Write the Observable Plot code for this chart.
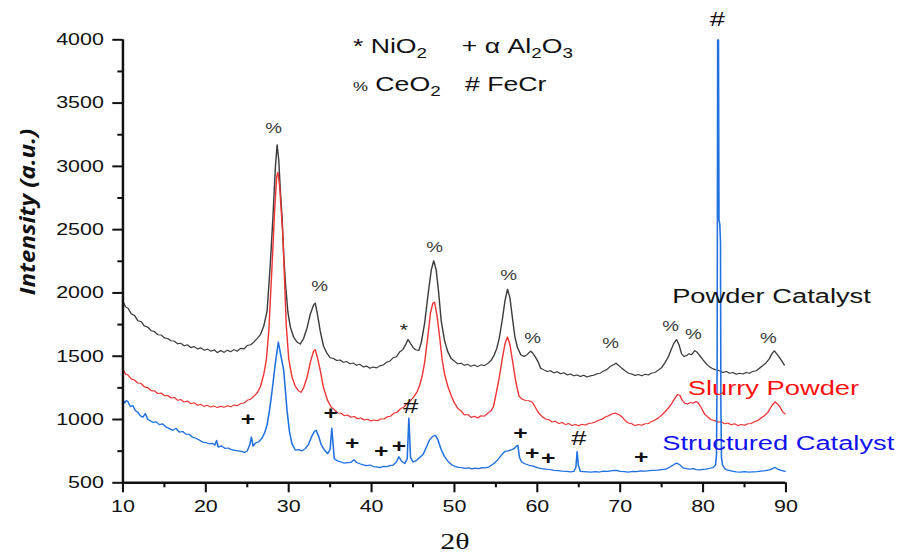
<!DOCTYPE html>
<html><head><meta charset="utf-8">
<script src="https://cdn.jsdelivr.net/npm/d3@7"></script>
<script src="https://cdn.jsdelivr.net/npm/@observablehq/plot@0.6"></script>
<style>body{margin:0;background:#fff;} #chart svg{display:block}</style>
</head><body><div id="chart"></div>
<script>
// ---- data (2θ in degrees, intensity in a.u.) ----
const powderCatalyst = [[10,1935],[10.3,1890],[10.6,1880],[11,1835],[11.4,1822],[11.8,1780],[12.2,1772],[12.6,1738],[13,1730],[13.4,1702],[13.8,1695],[14.2,1670],[14.6,1668],[15,1645],[15.4,1640],[15.8,1622],[16.2,1620],[16.6,1598],[17,1602],[17.4,1582],[17.8,1590],[18.2,1568],[18.6,1576],[19,1558],[19.4,1566],[19.8,1548],[20.2,1556],[20.6,1540],[21,1550],[21.4,1528],[21.8,1545],[22.2,1530],[22.6,1548],[23,1536],[23.4,1552],[23.8,1540],[24.2,1562],[24.6,1558],[25,1585],[25.4,1590],[25.8,1612],[26.2,1640],[26.6,1672],[27,1740],[27.4,1860],[27.8,2250],[28.1,2600],[28.4,3000],[28.6,3170],[28.8,3050],[29,2800],[29.2,2600],[29.4,2300],[29.6,2080],[29.9,1850],[30.2,1730],[30.6,1650],[31,1612],[31.4,1596],[31.8,1640],[32.2,1720],[32.6,1830],[33,1905],[33.2,1920],[33.5,1820],[33.8,1700],[34.2,1580],[34.6,1525],[35,1488],[35.4,1482],[35.8,1466],[36.2,1470],[36.6,1452],[37,1458],[37.4,1440],[37.8,1446],[38.2,1428],[38.6,1436],[39,1416],[39.4,1422],[39.8,1405],[40.2,1415],[40.6,1408],[41,1424],[41.4,1430],[41.8,1452],[42.2,1460],[42.6,1488],[43,1496],[43.4,1535],[43.8,1555],[44.1,1590],[44.4,1632],[44.7,1600],[45,1570],[45.3,1552],[45.7,1545],[46,1610],[46.4,1760],[46.8,1980],[47.2,2180],[47.5,2255],[47.8,2180],[48.1,2000],[48.4,1780],[48.8,1625],[49.2,1535],[49.6,1482],[50,1462],[50.4,1440],[50.8,1445],[51.2,1428],[51.6,1436],[52,1420],[52.4,1430],[52.8,1418],[53.2,1432],[53.6,1426],[54,1442],[54.4,1465],[54.8,1510],[55.1,1560],[55.4,1640],[55.8,1800],[56.1,1940],[56.4,2030],[56.7,1960],[57,1800],[57.3,1650],[57.6,1570],[58,1512],[58.4,1498],[58.8,1515],[59.2,1540],[59.5,1520],[59.8,1490],[60.1,1455],[60.4,1405],[60.8,1392],[61.2,1380],[61.6,1385],[62,1368],[62.4,1378],[62.8,1362],[63.2,1370],[63.6,1352],[64,1360],[64.4,1345],[64.8,1352],[65.2,1340],[65.6,1350],[66,1336],[66.4,1345],[66.8,1350],[67.2,1362],[67.6,1366],[68,1384],[68.4,1395],[68.8,1420],[69.2,1432],[69.5,1445],[69.8,1428],[70.2,1405],[70.6,1385],[71,1366],[71.4,1360],[71.8,1348],[72.2,1356],[72.6,1345],[73,1358],[73.4,1352],[73.8,1368],[74.2,1372],[74.6,1390],[75,1410],[75.4,1448],[75.8,1495],[76.2,1560],[76.5,1605],[76.8,1632],[77.1,1590],[77.4,1520],[77.7,1498],[78,1505],[78.3,1520],[78.6,1512],[79,1545],[79.3,1530],[79.6,1505],[80,1470],[80.4,1440],[80.8,1415],[81.2,1400],[81.6,1392],[82,1385],[82.4,1372],[82.8,1380],[83.2,1366],[83.6,1372],[84,1358],[84.4,1366],[84.8,1360],[85.2,1372],[85.6,1366],[86,1380],[86.4,1385],[86.8,1405],[87.2,1425],[87.6,1448],[88,1480],[88.3,1520],[88.6,1542],[88.9,1518],[89.2,1492],[89.5,1462],[89.8,1430]];

const slurryPowder = [[10,1395],[10.3,1360],[10.6,1352],[11,1320],[11.4,1312],[11.8,1288],[12.2,1284],[12.6,1258],[13,1252],[13.4,1228],[13.8,1226],[14.2,1205],[14.6,1210],[15,1188],[15.4,1190],[15.8,1170],[16.2,1174],[16.6,1152],[17,1158],[17.4,1138],[17.8,1146],[18.2,1125],[18.6,1132],[19,1112],[19.4,1120],[19.8,1104],[20.2,1112],[20.6,1098],[21,1106],[21.4,1094],[21.8,1104],[22.2,1096],[22.6,1108],[23,1100],[23.4,1114],[23.8,1110],[24.2,1126],[24.6,1130],[25,1152],[25.4,1160],[25.8,1185],[26.2,1210],[26.6,1262],[27,1360],[27.3,1470],[27.6,1700],[28,2230],[28.3,2650],[28.55,2920],[28.7,2954],[28.9,2850],[29.1,2650],[29.3,2450],[29.5,2100],[29.7,1750],[30,1480],[30.4,1335],[30.8,1262],[31.2,1226],[31.5,1215],[31.8,1250],[32.2,1330],[32.6,1450],[33,1540],[33.2,1552],[33.5,1480],[33.8,1390],[34.2,1252],[34.7,1150],[35.1,1100],[35.5,1078],[35.9,1052],[36.3,1050],[36.7,1030],[37.1,1036],[37.5,1018],[37.9,1024],[38.3,1006],[38.7,1012],[39.1,996],[39.5,1002],[39.9,988],[40.3,996],[40.7,990],[41.1,1004],[41.5,1004],[41.9,1022],[42.3,1026],[42.7,1050],[43.1,1058],[43.5,1086],[43.9,1098],[44.3,1128],[44.7,1148],[45.1,1180],[45.5,1220],[45.8,1270],[46.1,1340],[46.4,1450],[46.8,1660],[47.1,1840],[47.4,1920],[47.6,1928],[47.9,1820],[48.2,1660],[48.5,1480],[48.8,1360],[49.2,1262],[49.6,1190],[50,1130],[50.4,1088],[50.8,1068],[51.2,1036],[51.6,1040],[52,1016],[52.4,1026],[52.8,1012],[53.2,1030],[53.6,1026],[54,1048],[54.4,1068],[54.7,1100],[55,1195],[55.4,1330],[55.8,1490],[56.1,1600],[56.4,1652],[56.7,1590],[57,1466],[57.4,1300],[57.8,1182],[58.2,1160],[58.6,1150],[59,1148],[59.4,1136],[59.8,1092],[60.2,1048],[60.6,1022],[61,1004],[61.4,998],[61.8,980],[62.2,986],[62.6,968],[63,976],[63.4,960],[63.8,968],[64.2,952],[64.6,960],[65,950],[65.4,962],[65.8,956],[66.2,968],[66.6,972],[67,980],[67.4,994],[67.8,1002],[68.2,1020],[68.6,1030],[69,1044],[69.4,1052],[69.8,1040],[70.2,1022],[70.6,992],[71,972],[71.4,966],[71.8,952],[72.2,960],[72.6,954],[73,966],[73.4,968],[73.8,985],[74.2,996],[74.6,1012],[75,1035],[75.4,1060],[75.8,1090],[76.2,1125],[76.6,1168],[76.9,1198],[77.2,1192],[77.5,1150],[77.8,1128],[78.1,1122],[78.5,1135],[78.8,1128],[79.1,1142],[79.4,1132],[79.8,1090],[80.2,1042],[80.6,1018],[81,998],[81.4,992],[81.8,978],[82.2,984],[82.6,966],[83,972],[83.4,958],[83.8,966],[84.2,952],[84.6,960],[85,954],[85.4,966],[85.8,968],[86.2,982],[86.6,992],[87,1012],[87.4,1030],[87.8,1055],[88.1,1088],[88.4,1118],[88.7,1140],[89,1122],[89.3,1098],[89.6,1060],[89.9,1045]];

const structuredCatalyst = [[10,1155],[10.2,1130],[10.4,1150],[10.6,1140],[10.9,1102],[11.2,1110],[11.5,1070],[11.8,1058],[12.1,1030],[12.4,1018],[12.7,1048],[13,1000],[13.3,990],[13.6,978],[14,982],[14.4,960],[14.8,965],[15.2,940],[15.6,928],[16,915],[16.4,930],[16.8,900],[17.2,905],[17.6,885],[18,882],[18.4,860],[18.8,852],[19.2,838],[19.6,822],[20,818],[20.4,808],[20.8,812],[21.1,798],[21.3,835],[21.5,782],[21.9,792],[22.3,772],[22.7,775],[23.1,762],[23.5,756],[23.9,752],[24.3,748],[24.7,740],[25,752],[25.3,800],[25.5,862],[25.7,790],[26,815],[26.4,825],[26.8,855],[27.1,895],[27.4,960],[27.7,1080],[28,1229],[28.4,1450],[28.75,1611],[29,1525],[29.4,1387],[29.8,1070],[30.1,900],[30.4,808],[30.8,758],[31.2,762],[31.6,752],[32,770],[32.4,805],[32.8,870],[33.1,905],[33.3,915],[33.6,870],[33.9,805],[34.3,760],[34.7,730],[35,765],[35.2,932],[35.35,810],[35.5,690],[35.9,672],[36.3,665],[36.7,655],[37.1,660],[37.5,662],[37.9,682],[38.2,660],[38.6,650],[39,642],[39.4,636],[39.8,640],[40.2,628],[40.6,626],[41,620],[41.4,630],[41.8,628],[42.2,636],[42.6,640],[43,665],[43.3,706],[43.6,672],[44,652],[44.3,690],[44.5,1012],[44.7,700],[45,664],[45.4,675],[45.8,700],[46.2,722],[46.6,780],[47,840],[47.4,868],[47.7,876],[48,840],[48.4,762],[48.8,708],[49.2,672],[49.7,640],[50.1,628],[50.5,622],[50.9,620],[51.3,614],[51.7,618],[52.1,610],[52.5,616],[52.9,612],[53.3,620],[53.7,618],[54.1,624],[54.5,640],[54.9,660],[55.3,688],[55.7,722],[56.1,748],[56.5,752],[56.9,762],[57.2,770],[57.5,792],[57.65,796],[57.85,700],[58.1,665],[58.5,650],[59,638],[59.5,632],[60,620],[60.5,612],[61,608],[61.5,605],[62,598],[62.5,596],[63,592],[63.5,590],[64,586],[64.4,590],[64.65,620],[64.8,746],[64.95,640],[65.2,590],[65.6,588],[66,586],[66.5,584],[67,588],[67.5,585],[68,592],[68.5,590],[69,596],[69.5,598],[70,590],[70.5,588],[71,584],[71.5,590],[72,588],[72.5,594],[73,592],[73.5,596],[74,598],[74.5,600],[75,604],[75.5,608],[76,625],[76.4,640],[76.8,656],[77.2,642],[77.6,618],[78,612],[78.4,608],[78.8,612],[79.2,604],[79.6,602],[80,606],[80.4,608],[80.8,615],[81.2,620],[81.5,640],[81.62,720],[81.7,1500],[81.76,4000],[81.86,4000],[81.92,2580],[82.02,2540],[82.1,2400],[82.15,1100],[82.22,700],[82.35,640],[82.6,612],[83,600],[83.5,592],[84,586],[84.5,585],[85,588],[85.5,584],[86,586],[86.5,588],[87,592],[87.5,596],[88,602],[88.4,612],[88.7,622],[89,608],[89.4,598],[89.9,590]];

// phase markers placed above the peaks
const ceriaX = [28.18, 33.73, 47.61, 56.53, 59.42, 68.83, 76.07, 78.84, 87.89];
const ceriaY = [3299, 2051, 2359, 2138, 1640, 1600, 1735, 1672, 1640];
const aluminaX = [25.08, 35.06, 37.67, 41.17, 43.3, 57.97, 59.38, 61.31, 72.53];
const aluminaY = [1006, 1050, 816, 750, 795, 895, 734, 694, 708];
const fecrX = [44.74, 65.0, 81.73];
const fecrY = [1103, 848, 4160];
const nioX = [43.9];
const nioY = [1698];

// series labels
const seriesNames = ["Powder Catalyst", "Slurry Powder", "Structured Catalyst"];
const labelX = [76.27, 78.15, 75.07];
const labelY = [1974, 1245, 811];

// ticks
const xMajor = [10, 20, 30, 40, 50, 60, 70, 80, 90];
const xMinor = [15, 25, 35, 45, 55, 65, 75, 85];
const yMajor = [500, 1000, 1500, 2000, 2500, 3000, 3500, 4000];
const yMinor = [750, 1250, 1750, 2250, 2750, 3250, 3750];

// ---- layout ----
const W = 901, H = 555, S = 1.3;          // horizontal stretch like the reference
const PW = W / S;
const SANS = "'Liberation Sans', Arial, sans-serif";
const lineColors = ["#3c3c3c", "#ee3434", "#2170e0"];
const labelColors = ["#141414", "#ff1010", "#1212f0"];

const pts = (xs, ys) => xs.map((x, i) => ({x, y: ys[i]}));
const asRows = arr => arr.map(([x, y]) => ({x, y}));
const labels = seriesNames.map((name, i) => ({name, x: labelX[i], y: labelY[i], c: labelColors[i]}));

function extraText(index, scales, values, dimensions) {
  const g = d3.create("svg:g").attr("fill", "#111");
  // y axis title
  g.append("text")
    .attr("transform", `translate(21,212) rotate(-90) scale(1.42,1)`)
    .attr("text-anchor", "middle").attr("dy", "0.35em")
    .attr("font-family", "'Open Sans', 'DejaVu Sans', sans-serif")
    .attr("font-weight", "bold").attr("font-style", "italic")
    .attr("font-size", 17).text("Intensity (a.u.)");
  // x axis title
  g.append("text")
    .attr("x", 455 / S).attr("y", 541).attr("dy", "0.35em")
    .attr("text-anchor", "middle")
    .attr("font-family", "'Liberation Serif', 'Times New Roman', serif")
    .attr("font-size", 23).text("2\u03B8");
  // legend of phases
  const leg = g.append("g").attr("font-family", SANS).attr("font-size", 20.5).attr("text-anchor", "start");
  const sub = (t, s) => { t.append("tspan").attr("font-size", 14.5).attr("dy", 5).text(s); };
  let t = leg.append("text").attr("x", 271.5).attr("y", 53.3);
  t.append("tspan").text("* NiO"); sub(t, "2");
  t = leg.append("text").attr("x", 355.2).attr("y", 53.3);
  t.append("tspan").text("+ \u03B1 Al"); sub(t, "2");
  t.append("tspan").attr("dy", -5).text("O"); sub(t, "3");
  t = leg.append("text").attr("x", 271.5).attr("y", 90.7);
  t.append("tspan").attr("font-size", 13).text("%");
  t.append("tspan").text(" CeO"); sub(t, "2");
  t = leg.append("text").attr("x", 357.7).attr("y", 90.7);
  t.append("tspan").text("# FeCr");
  return g.node();
}

const chart = Plot.plot({
  width: PW, height: H,
  marginLeft: 122.3 / S, marginRight: (W - 785.3) / S,
  marginTop: 39.3, marginBottom: H - 482.3,
  style: {fontFamily: SANS, fontSize: "16.5px", background: "white", color: "#111"},
  x: {domain: [10, 90]},
  y: {domain: [500, 4000]},
  marks: [
    Plot.line(asRows(powderCatalyst), {x: "x", y: "y", stroke: lineColors[0], strokeWidth: 1.1}),
    Plot.line(asRows(slurryPowder), {x: "x", y: "y", stroke: lineColors[1], strokeWidth: 1.1}),
    Plot.line(asRows(structuredCatalyst), {x: "x", y: "y", stroke: lineColors[2], strokeWidth: 1.2}),
    Plot.ruleY([500], {stroke: "#111", strokeWidth: 2.4}),
    Plot.ruleX([10], {stroke: "#111", strokeWidth: 1.9}),
    Plot.axisX(xMajor, {anchor: "bottom", tickSize: 10, tickPadding: 7, strokeWidth: 1.6, fontSize: 16.5, tickFormat: d => String(d), label: null}),
    Plot.axisX(xMinor, {anchor: "bottom", tickSize: 5, strokeWidth: 1.6, tickFormat: () => "", label: null}),
    Plot.axisY(yMajor, {anchor: "left", tickSize: 7.7, tickPadding: 7, strokeWidth: 2, fontSize: 16.5, tickFormat: d => String(d), label: null}),
    Plot.axisY(yMinor, {anchor: "left", tickSize: 3.8, strokeWidth: 2, tickFormat: () => "", label: null}),
    Plot.text(pts(ceriaX, ceriaY), {x: "x", y: "y", text: () => "%", fontSize: 14.5, fill: "#3a3a3a"}),
    Plot.text(pts(aluminaX, aluminaY), {x: "x", y: "y", text: () => "+", fontSize: 19, fontWeight: "bold", fill: "#111"}),
    Plot.text(pts(fecrX, fecrY), {x: "x", y: "y", text: () => "#", fontSize: 21, fill: "#111"}),
    Plot.text(pts(nioX, nioY), {x: "x", y: "y", text: () => "*", fontSize: 16, fill: "#222"}),
    Plot.text(labels, {x: "x", y: "y", text: "name", fill: "c", textAnchor: "start", fontSize: 21}),
    extraText
  ]
});

chart.setAttribute("width", W);
chart.setAttribute("height", H);
chart.setAttribute("preserveAspectRatio", "none");
chart.style.width = W + "px";
chart.style.height = H + "px";
chart.style.maxWidth = "none";
document.getElementById("chart").appendChild(chart);
</script>
</body></html>
